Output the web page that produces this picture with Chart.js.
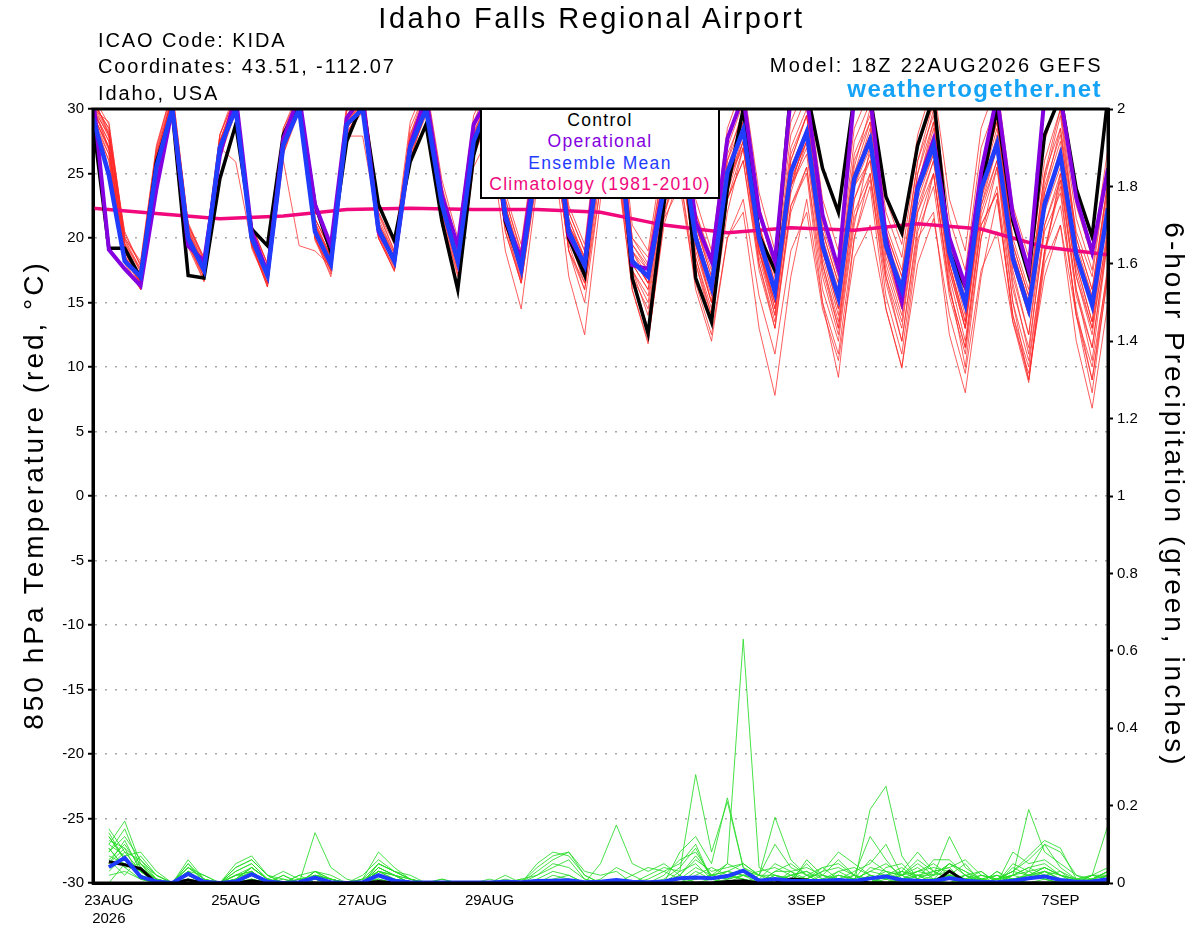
<!DOCTYPE html>
<html>
<head>
<meta charset="utf-8">
<script src="https://cdn.jsdelivr.net/npm/chart.js@4.4.1/dist/chart.umd.min.js"></script>
<style>
  body { margin: 0; background: #fff; font-family: "Liberation Sans", Arial, sans-serif; }
  #wrap { position: relative; width: 1200px; height: 927px; overflow: hidden; }
  #chart { position: absolute; left: 0; top: 0; }
  .t { position: absolute; white-space: nowrap; line-height: 1; color: #000; }
  .hdr { font-size: 20px; letter-spacing: 1.9px; left: 98px; }
  #legendBox { position: absolute; left: 480px; top: 108px; width: 240px; height: 91px; box-sizing: border-box;
    border: 2px solid #000; background: #fff; text-align: center; font-size: 17.5px; letter-spacing: 1.3px; line-height: 21.3px; }
  .ytitle { position: absolute; width: 600px; text-align: center; font-size: 28px; letter-spacing: 3px; line-height: 28px; top: 481px; }
</style>
</head>
<body>
<div id="wrap">
  <canvas id="chart" width="1200" height="927"></canvas>
  <div class="t" style="left:0;width:1183px;text-align:center;top:4px;font-size:29px;letter-spacing:2.5px;">Idaho Falls Regional Airport</div>
  <div class="t hdr" style="top:30px;">ICAO Code: KIDA</div>
  <div class="t hdr" style="top:56px;">Coordinates: 43.51, -112.07</div>
  <div class="t hdr" style="top:83px;">Idaho, USA</div>
  <div class="t" style="right:97px;top:55px;font-size:20px;letter-spacing:2.3px;">Model: 18Z 22AUG2026 GEFS</div>
  <div class="t" style="right:98px;top:77px;font-size:24px;font-weight:bold;letter-spacing:1.4px;color:#14a3f6;">weathertogether.net</div>
  <div id="legendBox">
    <div style="color:#000">Control</div>
    <div style="color:#8400e0">Operational</div>
    <div style="color:#1f3cff">Ensemble Mean</div>
    <div style="color:#f0087c">Climatology (1981-2010)</div>
  </div>
  <div class="ytitle" style="left:-266px;transform:rotate(-90deg);">850 hPa Temperature (red, °C)</div>
  <div class="ytitle" style="left:874px;transform:rotate(90deg);">6-hour Precipitation (green, inches)</div>
</div>
<script>
const F = '"Liberation Sans", Arial, sans-serif';

// forecast hours from 18Z 22AUG2026
const hours = [0,6,12,18,24,30,36,42,48,54,60,66,72,78,84,90,96,102,108,114,120,126,132,138,144,150,156,162,168,174,180,186,192,198,204,210,216,222,228,234,240,246,252,258,264,270,276,282,288,294,300,306,312,318,324,330,336,342,348,354,360,366,372,378,384];
const precipHours = hours.slice(1);

const xTickHours = [6, 54, 102, 150, 222, 270, 318, 366];
const xTickLabels = [['23AUG', '2026'], '25AUG', '27AUG', '29AUG', '1SEP', '3SEP', '5SEP', '7SEP'];

// 850 hPa temperature (C)
const controlTemp = [29.0, 19.2,19.2,16.9,25.9, 29.8,17.1,16.9,24.6, 28.8,20.7,19.4,28.0, 30.5,22.6,18.9,27.5, 30.5,22.6,19.8,25.9, 28.8,21.3,16.0,26.4, 31.0,21.3,17.8,27.0, 31.0,20.0,17.1,29.0, 31.5,16.9,12.6,22.6, 31.0,16.9,13.5,23.8, 30.0,20.2,17.5,31.5, 31.5,25.4,22.0,31.0, 31.0,23.2,20.4,27.2, 31.0,18.9,16.2,23.8, 30.0,21.3,17.1,28.0, 31.0,23.8,20.1,31.0];
const operTemp = [31.0, 19.1,17.6,16.3,23.8, 30.0,19.4,18.2,26.4, 31.0,20.5,17.3,27.7, 31.0,22.6,19.4,29.3, 31.0,20.5,18.3,27.2, 31.0,23.3,19.4,28.8, 31.0,21.5,18.4,27.0, 31.0,20.2,17.9,29.0, 31.0,17.9,17.6,24.1, 31.0,21.3,18.2,27.7, 31.0,22.0,18.2,31.0, 31.0,21.8,17.6,31.0, 31.0,20.0,15.1,24.0, 27.6,20.0,16.3,25.1, 31.0,21.8,17.5,31.0, 31.0,23.1,18.9,25.4];
const meanTemp = [29.3, 24.9,18.2,17.0,25.5, 30.0,20.0,17.5,27.0, 30.0,20.0,17.1,27.2, 30.0,20.5,18.0,28.8, 30.0,20.7,18.2,27.0, 30.0,22.6,18.2,27.5, 30.5,21.8,17.6,26.0, 29.5,20.5,17.9,27.0, 29.5,18.2,17.0,23.8, 28.0,20.0,16.2,25.1, 28.4,20.0,15.8,25.1, 28.2,19.4,15.4,24.6, 27.6,19.4,16.0,23.8, 27.2,18.9,14.9,23.8, 27.3,18.4,14.5,22.6, 26.4,18.7,14.8,22.3];
const climHours = [0, 24, 48, 72, 96, 120, 144, 168, 192, 216, 240, 264, 288, 312, 336, 360, 384];
const climTemp = [22.3, 21.9, 21.5, 21.7, 22.2, 22.3, 22.2, 22.2, 22.0, 21.0, 20.4, 20.8, 20.6, 21.1, 20.7, 19.3, 18.7];

const memberTemps = [
  [30.5, 28,20.5,17.8,26, 31,20.8,18,27.5, 31,20.5,17.5,27.8, 31,21,18.4,29.5, 31.5,21.5,18.8,28, 31,23.5,19,28.5, 31.5,22.5,18.5,27, 30.5,21,18.5,28, 31,19.5,17.8,25, 29.5,21,17,26, 30,21,16.5,26.5, 29.5,20.5,16.5,25.5, 30,20.5,17,26, 30.5,20,16,25.5, 30.5,19.5,15.5,25, 30,20,16,24.5],
  [29.5, 27,19,16.5,25, 30.5,19.5,17,26.5, 30.5,19.5,16.5,27, 30.5,20,17.5,28, 30.5,20,17.5,26, 30,21.5,17,26.5, 29.5,20.5,16.5,25, 28,19,16.5,25.5, 27.5,17,14.5,22, 26,18.5,14,23, 26,18,13.5,22.5, 25.5,17,12.5,21.5, 24.5,16.5,12,20.5, 24,15.5,11,20, 24,15,10.5,19, 22.5,14.5,9,18],
  [30, 29,20,18,27, 31.5,21,18.5,28, 31.5,21,18,28.5, 31,21.5,19,30, 31.5,22,19,28.5, 31.5,24,19.5,29, 32,23,19,28, 31,22,19,29, 31.5,20,18.5,26, 30.5,22,18,27.5, 31,22.5,18,28, 31,21.5,17.5,27.5, 30.5,22,18.5,27, 30.5,21.5,17.5,27, 30.5,21,17,26, 30,21.5,17.5,26],
  [29, 26,18.5,16.8,25, 30.5,20.2,17.3,27.3, 30,19.8,16.8,27, 30,20.5,18,29, 30.5,20.5,18,27, 30.5,22,18,27.5, 30.5,21.5,17,26, 29,19.5,16,25, 26,16,12,21, 25,17,13.5,22, 27,19,15,24, 28,19,14.5,24, 27,19.5,16,23.5, 26.5,18,13.5,23, 27,18,14,22, 25.5,17,12.5,21],
  [30, 27.5,19.5,17,25.5, 30,20,17.5,27, 25.9,19.5,16.5,26, 19.4,19,17.8,27.9, 27.9,21,18.5,27, 31,23,18.5,28, 30,22,17.5,26.5, 29,20,18,27.5, 30,18.5,16.5,24, 28.5,20.5,16,25, 29,21,15.5,26, 29.5,20,15,25, 28,19,15.5,23, 26.5,17.5,13,22, 26,17,12.5,21, 25,17.5,13,20.5],
  [30.5, 28.5,19,16.2,26.5, 31,20.5,17.2,27.5, 30.5,19.5,16.2,26.5, 30.5,20,17,28.5, 30.5,20,17.8,27.5, 30.5,22,18,27, 30.5,21,17.5,26.5, 30,20.5,17.5,27.5, 30,18,16,23, 28,19.5,15,24, 27.5,19,14,24, 27,18,13,23, 26,17,12,21, 25,16.5,10,20, 25.5,15,9,19, 24,14,8,17.5],
  [29.5, 27,18.7,16.4,25.2, 30.5,19.8,17.6,26.8, 30.5,19.6,16.8,26.8, 30.5,20.2,17.6,28.2, 30,20.4,18.2,27, 30,22,17.5,27, 30,21,16.5,25, 28,19,15,24, 27,17,13,22, 25,16,12,20, 22,13,7.8,17, 23,15,11,20, 25,17,13,22, 26,17.5,13,22.5, 27,18,14,23, 26,17,13,22],
  [31, 28,19.8,17.4,26, 31,21,18.2,27.5, 30.5,20.3,17.5,27.8, 30.5,21,18.5,29.2, 31,21,18.5,27.5, 31,23,18.5,28, 31,22,18,27, 30,21,18.5,28, 30.5,19,17.5,25, 29.5,21,17.5,26.5, 29.5,21,17,26, 29.5,20.5,16.5,26, 29,20.5,17,25, 29,19.5,15.5,24.5, 29,19.5,15.5,24, 28,20,16,24],
  [29, 26.5,18,16,24.5, 30,19.5,16.7,26.5, 30,19.5,16.2,27, 30,20,17.5,28.5, 30,20,17.5,26.5, 29.5,21,16,25.5, 28,19,14.5,24, 27,17,12.5,23, 26.5,16,11.8,21.5, 27,18,13.5,23, 27,18.5,14,23.5, 27.5,18,13.5,23, 26.5,18,14,22.5, 26,17,12,21.5, 25.5,16.5,11,21, 24.5,16,10.5,20],
  [30.5, 28.5,20,18.2,27.2, 31.5,21.2,18.4,28, 31,21,18,28.5, 31.5,21.5,19,30.5, 32,22,19.5,29, 32,24.5,20,29.5, 32,23.5,19.5,28.5, 31.5,22.5,19.5,30, 32,21,19,27, 31.5,23,19,28.5, 32,23.5,19,29, 32,23,19,28.5, 31.5,23,19.5,28, 32,23,19,28.5, 32,22.5,18.5,27.5, 31.5,22.5,18.5,27],
  [30, 27,19.2,17.2,25.6, 30.5,20,17.4,27, 30.5,20.2,17.4,27.4, 30.5,20.8,18.2,28.8, 30.5,21,18.5,27.2, 30.5,22.5,18.5,27.5, 30.5,22,17.5,26, 29.5,20,17,26.5, 29,18,16,23, 27.5,19,15,24, 28,19.5,14.5,24.5, 27.5,18.5,14,24, 28,18.5,14.5,24, 28.5,18,13,23, 28,17.5,12.5,22.5, 27,18,13.5,22.5],
  [29.8, 27.5,18.4,16.6,25.4, 30.2,19.7,17,26.6, 30.2,19.8,16.9,26.9, 30.2,20.3,17.8,28.5, 30.2,20.6,17.9,26.8, 30.2,22.2,17.8,27.2, 30,21.5,17.2,25.5, 29,20,17.5,26.5, 28.5,17.5,15.5,22.5, 26.5,18,14,23, 26,17.5,13,22, 25.5,16,12,21, 27,19,15.5,24, 28,19,15,24, 28.5,19,15,23.5, 27.5,19,15.5,23.5],
  [30.2, 27,18.9,16.9,25.8, 30.8,20.4,17.9,27.2, 30.6,20,17.2,27.1, 30.6,20.6,18,28.9, 30.7,20.8,18.3,27.3, 30.6,22.7,18.3,27.8, 30.8,21.8,17.8,26.5, 30,21,18,27.5, 30,19,16.5,24.5, 28.5,20.5,16.5,25, 28,19.5,15,24.5, 27.5,19,15,24, 26,17.5,13.5,22, 25,16,11.5,21, 23.5,14,9,18, 21,12,6.8,15],
  [29.6, 26.8,18.6,16.5,25.3, 30.4,19.9,17.3,26.9, 30.4,19.9,17,27.2, 30.4,20.5,17.9,28.6, 30.4,20.6,18,27, 30.4,22.4,18,27.4, 30.4,21.6,17.4,26, 29.5,20.5,17.2,26.5, 29,18.5,16.5,24, 28,19.5,15.5,24.5, 27.5,19,14.5,24, 26.5,17.5,13,22, 25,15.5,11,20, 22,12.5,8,17, 23,14,10,19, 24.5,15.5,11.5,20],
  [30.3, 27.8,19.5,17.4,26.2, 30.8,20.6,17.7,27.3, 30.7,20.5,17.5,27.6, 30.7,21,18.4,29, 30.8,21,18.4,27.5, 30.8,22.8,18.4,27.8, 30.7,22,17.8,26.4, 29.8,20.8,18.2,27.5, 29.5,18.5,16.5,24, 28.5,19.5,15,24.5, 27,18,13,22.5, 25,15,9.2,20, 24,14.5,9.9,19.5, 25,16,11.5,21, 23.5,13.5,8.8,18.5, 25,16,11.5,20.5],
  [30, 28,19.6,17.6,26.4, 30.6,20.4,17.8,27.4, 30.4,20.4,17.6,27.5, 30.6,21.2,18.6,29.2, 30.6,21.2,18.8,27.6, 31,23.2,18.8,28, 31,22.5,18.2,27, 30.5,21.5,18.2,27, 30,19,17,24.5, 29,20.5,16.5,25.5, 29,20,15.5,25, 28.5,19,14.5,24.5, 28.5,19,15,24, 29,18.5,14,23.5, 29.5,18.5,14,23.5, 28.5,18,13.5,23],
  [31, 28.8,20.3,17.9,26.8, 31.2,21,18.3,28, 31,20.8,18,28.2, 31.2,21.5,19,29.8, 31.5,21.8,19,28, 31.5,23.8,19.2,28.5, 31.5,23,18.8,28, 31,22,19,28.5, 31,20,18,26, 30.5,22,18.5,27, 30.5,22,17.5,27, 30,21,17,26.5, 29.5,21,17.5,26, 29.5,20,16.5,25, 29,20,16,25, 28.5,20.5,17,25.5],
  [29.4, 26.5,18.4,16.3,25, 30.2,19.6,16.9,26.4, 30,19.4,16.5,26.6, 30,20,17.4,28.2, 30,20.2,17.7,26.6, 30,21.8,17.5,26.8, 30,21,16.8,25.5, 29,20,16.5,26, 28.5,17.5,15,22.5, 27,18.5,14.5,23.5, 27.5,19,15,24, 28,19.5,15.5,24.5, 28,19,14.5,24, 27.5,18,13.5,22.5, 26,16,11.5,20.5, 23.5,14,9,17],
  [30.8, 28.2,19.9,17.6,26.6, 30.8,20.7,17.9,27.6, 30.8,20.6,17.7,27.9, 30.8,21.2,18.6,29.2, 31,21.2,18.6,27.8, 31,23.2,18.7,28.2, 31,22.5,18,27, 30.5,21.5,18.5,28, 30.5,19.5,17.5,25.5, 29.5,21,17,26, 29,20.5,16.5,25.5, 28.5,20,16,25, 29,20,16.5,25, 30,19.5,15,24.5, 30.5,19,15,24.5, 29.5,19.5,15.5,24.5],
  [29.2, 26,18.2,16,24.8, 29.8,19.3,16.6,26.2, 29.8,19.2,16.4,26.5, 29.8,19.8,17.2,28, 29.8,20,17.4,26.2, 29.8,21.5,17.2,26.3, 29.5,20.5,16.5,24.5, 28,19,16,24, 26,17.5,14,21.5, 24,16.5,12.5,20, 23,15.5,11,19, 22,14.5,10.5,18.5, 21,14.5,10,18, 21.5,14,9.5,17.5, 20.5,13.5,9.5,17, 21,14,10,17.5]
];

// 6-hour precipitation (inches), from hour 6
const controlPrecip = [.055,.047,.037,0,0,.008,0,0, 0,.006,0,0,0,0,0,0, 0,.004,0,0,0,0,0,0, 0,0,0,0,0,0,0,0, 0,0,0,0,0,0,0,.004, .006,0,0,.01,.008,0,.006,.006, 0,0,0,0,0,.031,.004,0, 0,0,0,0,0,0,0,0];
const meanPrecip = [.041,.065,.016,.004,0,.024,.003,0, .004,.023,.004,0,.002,.014,.002,0, .002,.02,.006,.002,.001,.001,.001,.001, .001,.003,.002,.005,.006,.007,.002,.003, .008,.003,.002,.004,.012,.014,.012,.018, .032,.006,.01,.006,.005,.006,.008,.005, .012,.017,.008,.006,.005,.013,.006,.003, .002,.006,.012,.017,.008,.003,.004,.01];

const memberPrecip = [
  [.14,.08,.03,.01,0,.03,0,0, .02,.04,.01,0,0,.02,.01,0, 0,.03,.02,0,0,0,0,0, 0,0,0,0,0,0,0,0, 0,0,0,0,.02,.06,.03,.04, .05,.02,.01,.02,.03,.01,.02,.01, 0,.01,.02,0,.01,.02,.01,0, .01,.03,.07,.11,.09,.01,.02,.15],
  [.10,.16,.05,0,0,.06,.01,0, 0,.02,0,0,.01,.01,0,0, .01,.05,.03,.01,0,0,0,0, 0,0,0,.05,.08,.07,.02,0, 0,0,.01,.03,.05,.1,.01,0, 0,0,.03,.05,.02,0,.01,.02, .12,.06,.01,.02,.03,.01,0,.01, .02,.01,.02,.03,.01,0,.01,.02],
  [.08,.12,.06,.02,0,.02,0,0, .04,.06,.02,.01,0,.03,.01,0, 0,.02,.01,0,0,0,0,0, 0,.02,0,0,0,0,0,0, 0,0,0,0,0,.01,.02,.03, .02,.01,0,0,.01,.03,.08,.05, .02,0,.01,.03,.02,.05,.03,0, .01,.02,.19,.08,.05,.02,0,.01],
  [.12,.06,.02,0,0,.04,.02,0, .01,.03,0,0,0,.13,.04,.01, 0,.04,.02,.01,0,0,0,0, 0,0,0,.03,.06,.08,.03,.02, .03,0,0,0,0,0,0,.02, .01,0,.02,.01,0,0,0,0, .19,.25,.07,.01,0,0,.02,.03, 0,.01,.02,.04,.02,.01,.02,.04],
  [.06,.10,.04,.01,0,.01,0,0, .03,.05,.01,.03,.01,.01,0,0, .01,.08,.04,.01,0,0,0,0, 0,0,0,0,0,0,0,0, 0,0,0,0,.03,.28,.08,.21, .04,.01,0,0,.06,.02,.01,0, .01,.03,.02,.05,.02,.12,.04,.01, 0,.05,.03,.1,.04,.01,.01,.03],
  [.03,.07,.08,.03,0,0,0,0, 0,.01,0,0,0,.02,.01,0, 0,.01,0,0,0,0,0,0, 0,0,0,0,.02,.01,0,0, 0,0,0,0,0,0,0,0, 0,.02,.17,.06,.02,.04,.05,.02, .01,0,.03,.08,.03,.04,.06,.02, .01,.02,.04,.02,.01,0,.01,0],
  [.09,.04,.01,0,0,.05,.01,0, .02,.02,0,0,.02,.03,0,0, 0,.03,.01,0,0,.01,0,0, 0,0,0,0,0,0,0,0, 0,0,0,.02,.06,.08,.02,.01, .02,.03,.04,.02,0,.01,.03,.01, 0,.02,.04,.01,.06,.06,.02,0, .03,.01,.01,.03,.02,.01,0,.02],
  [.05,.11,.03,0,0,.03,0,0, .05,.07,.02,0,0,0,0,0, .02,.06,.03,.02,0,0,0,0, 0,0,.01,.02,.04,.06,.01,0, 0,0,0,0,0,0,.01,.05, .63,.04,.02,.01,0,0,.01,.03, .05,.1,.02,0,.01,.02,.01,.01, 0,.08,.05,.06,.03,0,.02,.01],
  [.11,.09,.05,.02,0,.02,0,0, 0,.03,0,.02,0,.02,.01,0, 0,.02,.01,0,0,0,0,0, 0,0,0,0,0,0,0,.05, .15,.05,.03,.05,.02,0,0,0, 0,0,0,.03,.04,.02,0,0, .02,.01,0,.02,0,.01,0,.02, .01,.03,.06,.1,.08,.02,.01,.03],
  [.07,.05,.02,0,0,.04,.01,0, .01,.04,.01,0,.01,.01,0,0, 0,.04,.02,0,0,0,0,0, .01,0,0,0,0,0,0,0, 0,.02,.04,.03,.01,.04,.02,.03, .02,.01,0,0,.01,.03,.04,.02, .01,0,.01,.03,.04,.03,.01,0, .02,0,.01,.02,.01,0,0,.01],
  [.04,.08,.06,.01,0,0,0,0, .03,.05,.01,0,0,.02,.01,0, 0,.01,0,0,0,0,0,0, 0,0,0,.01,.03,.02,0,0, 0,0,0,0,.08,.12,.05,.22, .04,.02,.1,.04,.02,0,.02,.01, .03,.02,.01,0,.02,.05,.03,.01, 0,.02,.03,.01,0,0,.01,.02],
  [.02,.03,.01,0,0,.01,0,0, 0,.02,0,0,0,.03,.02,0, .01,.03,.01,0,0,0,0,0, 0,.01,0,0,0,0,0,0, 0,0,0,0,0,.02,.04,.02, .01,0,.02,0,0,.01,0,0, .04,.03,.02,.04,.01,0,.02,0, .01,.01,.02,.04,.02,.01,0,0],
  [.13,.06,.02,0,0,.03,.02,0, .02,.03,0,.01,0,.01,0,0, 0,.05,.03,.01,0,0,0,0, 0,0,0,.04,.07,.08,.02,0, 0,0,0,0,0,0,0,.01, .03,.01,0,.02,.01,0,.03,.04, .02,.01,.03,.02,0,.02,.01,.03, 0,.04,.02,.03,.01,0,.02,.01],
  [.08,.14,.04,.01,0,.05,0,0, 0,.01,0,0,.02,0,0,0, 0,.02,.01,0,0,0,0,0, 0,0,0,0,0,0,0,0, 0,0,0,.01,.04,.09,.01,0, 0,0,.03,.03,0,.02,.06,.02, 0,.04,.05,.01,.03,.04,0,.01, .02,0,.01,.02,.03,.01,0,.02],
  [.06,.02,.07,.02,0,.02,0,0, .01,.04,.01,0,0,.02,.01,0, 0,.03,.02,0,0,0,0,0, 0,0,0,0,0,0,0,.01, .04,.02,0,0,0,.01,.02,.05, .03,.02,0,.01,.05,.01,0,.01, .03,.05,.02,.03,.05,.02,.05,0, .01,.02,.04,.05,.02,0,.01,.03],
  [0,.05,.03,0,0,0,0,0, .04,.06,.02,0,0,.01,0,0, 0,.04,.02,.01,0,0,0,0, 0,0,0,0,.01,.02,0,0, 0,0,0,0,0,0,0,0, .02,.01,.01,0,.02,.02,.01,0, .01,0,.01,.02,.01,.05,.02,.01, 0,.01,0,.01,0,.01,0,.01],
  [.10,.07,.02,0,0,.04,.01,0, 0,.02,0,.02,0,.03,.01,0, .01,.01,0,0,0,0,0,0, 0,0,.01,0,0,0,0,0, 0,0,.02,.04,.03,.05,.01,.03, .05,.02,.02,.01,0,.01,0,.02, 0,.02,.03,.01,0,0,.01,.02, .01,.03,.02,.02,.01,0,.01,0],
  [.05,.09,.01,0,0,.03,0,0, .02,.03,0,0,.01,.02,0,0, 0,.02,.01,0,0,.01,0,0, 0,0,0,0,0,0,0,0, 0,0,0,0,0,.03,.01,.02, .01,0,0,.02,.03,0,.02,.01, .06,.03,0,.02,.02,.03,0,0, .03,0,.03,.04,.02,0,.02,.02],
  [.09,.04,.05,.01,0,.01,0,0, 0,.01,0,0,0,0,0,0, 0,.03,.02,0,0,0,0,0, 0,0,0,.02,.05,.04,.01,0, 0,0,0,0,0,0,0,0, 0,.01,.05,.03,.01,.04,.01,0, .02,.01,.02,.06,.03,.01,.02,0, 0,.02,.01,.03,.01,.01,0,.01],
  [.12,.06,.03,0,0,.02,0,0, .01,.04,.01,0,0,.01,0,0, 0,.05,.03,.01,0,0,0,0, 0,0,0,0,0,0,0,0, 0,0,0,0,.02,.07,.02,.01, .02,0,.01,0,0,.01,0,.01, 0,.02,.01,0,.01,.02,.01,.01, 0,.01,.02,.01,0,0,.01,.03]
];

function pts(xs, ys) {
  return ys.map((v, k) => ({ x: xs[k], y: v }));
}
function series(label, xs, ys, color, width, axis) {
  return { label, data: pts(xs, ys), borderColor: color, borderWidth: width, pointRadius: 0,
           tension: 0, fill: false, yAxisID: axis };
}

// first dataset is drawn on top
const datasets = [
  series('Ensemble Mean', hours, meanTemp, '#1f3cff', 4.5, 'y'),
  series('Operational', hours, operTemp, '#8400e0', 4, 'y'),
  series('Control', hours, controlTemp, '#000', 3.5, 'y'),
  series('Climatology', climHours, climTemp, '#f0087c', 3.5, 'y'),
  series('Mean precip', precipHours, meanPrecip, '#1f3cff', 4, 'y1'),
  series('Control precip', precipHours, controlPrecip, '#000', 3, 'y1')
];
memberPrecip.forEach((m, k) => datasets.push(series('p' + k, precipHours, m, 'rgba(40,220,40,0.85)', 1, 'y1')));
memberTemps.forEach((m, k) => datasets.push(series('t' + k, hours, m, 'rgba(255,40,40,0.75)', 1, 'y')));

const frame = {
  id: 'frame',
  afterDatasetsDraw(chart) {
    const { ctx, chartArea: a } = chart;
    ctx.save();
    ctx.strokeStyle = '#000';
    ctx.lineWidth = 3;
    ctx.strokeRect(a.left, a.top, a.right - a.left, a.bottom - a.top);
    ctx.restore();
  }
};

new Chart(document.getElementById('chart'), {
  type: 'line',
  data: { datasets },
  plugins: [frame],
  options: {
    responsive: false,
    animation: false,
    events: [],
    layout: { padding: { top: 109, left: 0, right: 0, bottom: 0 } },
    plugins: { legend: { display: false }, tooltip: { enabled: false } },
    scales: {
      x: {
        type: 'linear', min: 0, max: 384,
        afterBuildTicks: s => { s.ticks = xTickHours.map(v => ({ value: v })); },
        afterFit: s => { s.height = 44; },
        grid: { display: false, drawTicks: false },
        border: { display: true, color: '#000', width: 3 },
        ticks: {
          autoSkip: false, maxRotation: 0, padding: 9, color: '#000',
          font: { family: F, size: 15 },
          callback: v => { const k = xTickHours.indexOf(v); return k < 0 ? '' : xTickLabels[k]; }
        }
      },
      y: {
        position: 'left', min: -30, max: 30,
        afterFit: s => { s.width = 93; },
        grid: { color: '#a8a8a8', lineWidth: 1.5, tickLength: 5, tickColor: '#000', tickWidth: 2 },
        border: { display: true, color: '#000', width: 3, dash: [2, 8] },
        ticks: { stepSize: 5, padding: 4, color: '#000', font: { family: F, size: 15 }, callback: v => String(v) }
      },
      y1: {
        position: 'right', min: 0, max: 2,
        afterFit: s => { s.width = 92; },
        grid: { drawOnChartArea: false, tickLength: 5, tickColor: '#000', tickWidth: 2 },
        border: { display: true, color: '#000', width: 3 },
        ticks: { stepSize: 0.2, padding: 4, color: '#000', font: { family: F, size: 15 }, callback: v => String(+v.toFixed(1)) }
      }
    }
  }
});
</script>
</body>
</html>
